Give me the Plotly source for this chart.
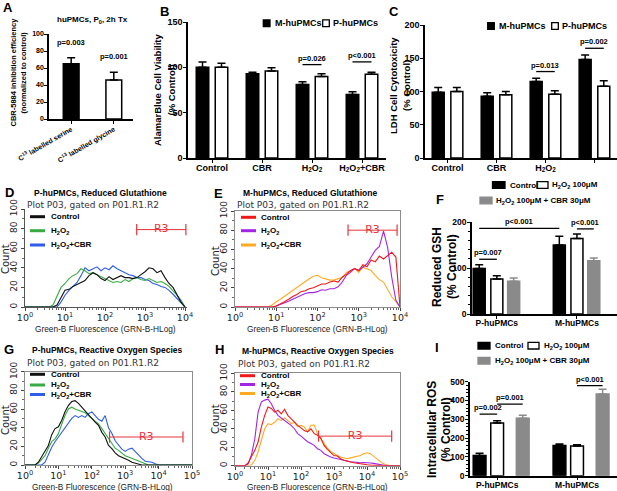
import plotly.graph_objects as go

ARIAL = "Arial, Liberation Sans, sans-serif"
DEJAVU = "DejaVu Sans, Verdana, sans-serif"
W, H = 617, 491

# ---------------- data ----------------
# A: CBR-5884 inhibition efficiency (huPMCs, P0, 2h)
tracer_labels = ["C<sup>13</sup> labelled serine", "C<sup>13</sup> labelled glycine"]
inhibition = [65, 46]
inhibition_err = [7, 9]
inhibition_p = ["p=0.003", "p=0.001"]

# B / C: viability and LDH cytotoxicity
treatments = ["Control", "CBR", "H<sub>2</sub>O<sub>2</sub>", "H<sub>2</sub>O<sub>2</sub>+CBR"]
viability_m = [100, 93, 81, 70]
viability_m_err = [6, 1.5, 3, 3]
viability_p = [100, 96, 90, 92.5]
viability_p_err = [4.5, 3.5, 3, 2]
ldh_m = [99, 93, 115, 148]
ldh_m_err = [7, 5, 5, 7]
ldh_p = [100, 95, 96, 108]
ldh_p_err = [6, 5, 5, 8]

# F / I: reduced GSH and ROS
cells = ["P-huPMCs", "M-huPMCs"]
gsh_ctrl = [99, 150]
gsh_ctrl_err = [8, 19]
gsh_h2o2 = [76, 164]
gsh_h2o2_err = [7, 10]
gsh_cbr = [71, 116]
gsh_cbr_err = [7, 6]
ros_ctrl = [108, 160]
ros_ctrl_err = [12, 8]
ros_h2o2 = [280, 158]
ros_h2o2_err = [12, 7]
ros_cbr = [305, 435]
ros_cbr_err = [17, 25]

# D / E: GSH flow histograms (GRN-B fluorescence)
gsh_fluor = [1, 1.26, 1.58, 2.0, 2.51, 3.16, 3.98, 5.01, 6.31, 7.94,
             10, 12.6, 15.8, 20.0, 25.1, 31.6, 39.8, 50.1, 63.1, 79.4,
             100, 126, 158, 200, 251, 316, 398, 501, 631, 794,
             1000, 1259, 1585, 1995, 2512, 3162, 3981, 5012, 6310, 7943, 10000]
gsh_p_control = [0, 0, 0, 0, 0, 0, 0, 0, 2, 10,
                 17, 18, 21, 23, 25, 27, 32, 35, 33, 29,
                 27, 31, 28, 30, 32, 30, 30, 29, 30, 33,
                 36, 40, 39, 35, 37, 30, 24, 20, 12, 5, 0]
gsh_p_h2o2 = [0, 0, 0, 0, 0, 0, 0, 2, 12, 20,
              24, 29, 32, 34, 39, 37, 34, 35, 33, 31,
              29, 27, 25, 26, 25, 28, 26, 29, 30, 28,
              27, 29, 27, 25, 26, 24, 21, 17, 12, 7, 0]
gsh_p_cbr = [0, 0, 0, 0, 0, 0, 0, 0, 0, 5,
             12, 17, 21, 25, 32, 40, 37, 39, 41, 37,
             40, 38, 42, 39, 37, 35, 33, 32, 30, 30,
             28, 27, 24, 23, 21, 20, 17, 13, 9, 5, 0]
gsh_m_control = [0, 0, 0, 0, 0, 0, 0, 0, 0, 0,
                 1, 3, 5.5, 8, 11, 13, 16, 17, 19, 20,
                 22, 24, 24, 26, 27, 26, 31, 34, 38, 40,
                 38, 44, 42, 49, 47, 53, 50, 54, 57, 52, 0]
gsh_m_h2o2 = [0, 0, 0, 0, 0, 0, 0, 0, 0, 0,
              1, 2.5, 4.5, 6, 8, 10, 12, 14, 15, 15,
              16, 18, 17.5, 19, 19, 21, 26, 33, 36, 40,
              38, 42, 45, 52, 59, 63, 79, 62, 31, 7, 0]
gsh_m_cbr = [0, 0, 0, 0, 0, 0, 0, 0, 0, 2,
             5.5, 8, 11, 14, 17.5, 21, 24, 27, 29.5, 32,
             33, 30.5, 29.5, 28, 28, 29.5, 31, 36, 37.5, 40,
             36, 41.5, 40, 38, 33, 28.5, 26, 19, 10.7, 5.5, 0]

# G / H: ROS flow histograms
ros_fluor = [1, 1.26, 1.58, 2.0, 2.51, 3.16, 3.98, 5.01, 6.31, 7.94,
             10, 12.6, 15.8, 20.0, 25.1, 31.6, 39.8, 50.1, 63.1, 79.4,
             100, 126, 158, 200, 251, 316, 398, 501, 631, 794,
             1000, 1259, 1585, 1995, 2512, 3162, 3981, 5012, 6310, 7943,
             10000, 12589, 15849, 19953, 25119, 31623, 39811, 50119, 63096, 79433, 100000]
ros_p_control = [0, 0, 0, 0, 3, 8.6, 15, 21, 32.5, 39,
                 41, 48, 57, 64, 68, 69, 66, 62, 57, 54,
                 50, 46, 42.5, 35, 30, 21, 17.5, 13, 10, 8.6,
                 7, 5, 3, 2, 1.5, 0, 0, 0, 0, 0,
                 0, 0, 0, 0, 0, 0, 0, 0, 0, 0, 0]
ros_p_h2o2 = [0, 0, 0, 0, 2, 6, 10, 18, 25, 28,
              33.6, 44, 53, 60, 62, 60, 58.6, 57, 56, 53,
              50, 47, 44, 39, 33.6, 28, 23, 18, 15.7, 13,
              10, 8.5, 7, 5.5, 4, 2.5, 1.4, 0, 0, 0,
              0, 0, 0, 0, 0, 0, 0, 0, 0, 0, 0]
ros_p_cbr = [0, 0, 0, 0, 0, 0, 3, 12, 19, 25,
             30, 35, 40.7, 46, 50, 53, 51, 53, 51, 55,
             57, 53, 49, 47, 53, 40, 34, 26, 21, 17,
             14.6, 17, 18, 14, 10, 7, 4, 3.5, 3, 1.4,
             0, 0, 0, 0, 0, 0, 0, 0, 0, 0, 0]
ros_m_control = [0, 0, 0, 0, 3, 9.4, 16.6, 25.6, 42, 54.5,
                 63.5, 62, 58, 60, 56, 61, 54.5, 51, 47, 43.7,
                 41, 38, 36.5, 40, 34.7, 33, 30, 22, 17.7, 14.8,
                 11, 10.5, 7.6, 6, 4.7, 4, 3.2, 2.5, 1.8, 1.4,
                 1, 0.6, 0.3, 0, 0, 0, 0, 0, 0, 0, 0]
ros_m_h2o2 = [0, 0, 0, 0, 2, 12, 29, 58, 69, 71,
              72, 67, 60, 54.5, 51.6, 49, 47, 43.7, 40, 34.7,
              32, 29, 26, 24, 22, 18.4, 16.6, 13, 11, 9.4,
              8.3, 7.5, 6.5, 5.5, 4.7, 4.3, 4, 3.5, 3.2, 3.4,
              3.6, 3, 2.5, 1.8, 1, 0, 0, 0, 0, 0, 0]
ros_m_cbr = [0, 0, 0, 0, 0, 1, 5.8, 14.8, 29, 40,
             45.5, 44.4, 47, 51, 49, 51.6, 49, 45.5, 47, 42,
             43.7, 42, 36.5, 43.7, 44, 34.7, 29, 24, 19, 15.5,
             13, 11, 9.4, 8.5, 7.6, 8.5, 9.4, 10, 11, 13,
             14, 13, 10.5, 7.6, 4.7, 2, 0.7, 0, 0, 0, 0]

# R3 gates: [low, high, count level]
gate_gsh_p = [620, 10500, 79]
gate_gsh_m = [550, 8500, 80]
gate_ros_p = [340, 53700, 30]
gate_ros_m = [340, 56000, 32]

flow_legend = ["Control", "H<sub>2</sub>O<sub>2</sub>", "H<sub>2</sub>O<sub>2</sub>+CBR"]

BLACK_LINE = "#111111"
GREEN = "#3aaa45"
BLUE = "#2f5de8"
RED = "#f01818"
PURPLE = "#a424e6"
ORANGE = "#ffaa22"
GATE = "#e8333a"
GRAY_BAR = "#8a8a8a"

fig = go.Figure()
annotations = []
shapes = []


def px(x):
    return x / W


def py(y):
    return 1 - y / H


def xid(n):
    return "x" if n == 1 else f"x{n}"


def yid(n):
    return "y" if n == 1 else f"y{n}"


def xkey(n):
    return "xaxis" if n == 1 else f"xaxis{n}"


def ykey(n):
    return "yaxis" if n == 1 else f"yaxis{n}"


def text(x, y, s, size, bold=True, anchor="center", angle=0, family=ARIAL, color="black"):
    annotations.append(dict(xref="paper", yref="paper", x=px(x), y=py(y), text=s,
                            showarrow=False, xanchor=anchor, yanchor="middle", textangle=angle,
                            font=dict(family=family, size=size, color=color,
                                      weight="bold" if bold else "normal")))


def swatch(x0, x1, yc, h, fill, edge="black"):
    shapes.append(dict(type="rect", xref="paper", yref="paper", x0=px(x0), x1=px(x1),
                       y0=py(yc + h / 2), y1=py(yc - h / 2), fillcolor=fill,
                       line=dict(color=edge, width=1.3)))


def line_swatch(x0, x1, yc, color):
    shapes.append(dict(type="line", xref="paper", yref="paper", x0=px(x0), x1=px(x1),
                       y0=py(yc), y1=py(yc), line=dict(color=color, width=3)))


def bar_axes(n, x0, x1, yb, yt, xrange, yrange, ticktext, yticks, size,
             suffix="", minor=None, tickangle=0, standoff=-3):
    font = dict(family=ARIAL, size=size, color="black", weight="bold")
    common = dict(ticks="outside", ticklen=3, tickwidth=1.3, tickcolor="black",
                  showline=True, linecolor="black", linewidth=1.5, automargin=False,
                  showgrid=False, zeroline=False, tickfont=font, fixedrange=True)
    fig.update_layout(**{
        xkey(n): dict(domain=[px(x0), px(x1)], range=xrange, anchor=yid(n),
                      tickmode="array", tickvals=list(range(len(ticktext))),
                      ticktext=[f"<b>{t}</b>" for t in ticktext], tickangle=tickangle,
                      ticklabelstandoff=standoff, **common),
        ykey(n): dict(domain=[py(yb), py(yt)], range=yrange, anchor=xid(n),
                      tickmode="array", tickvals=yticks, ticksuffix=suffix,
                      ticklabelstandoff=-1, minor=minor or {}, **common),
    })


def add_bars(n, pos, vals, errs, fill, edge, width):
    fig.add_trace(go.Bar(
        x=pos, y=vals, width=width,
        marker=dict(color=fill, line=dict(color=edge, width=1.5)),
        error_y=dict(type="data", array=errs, arrayminus=[0] * len(errs), symmetric=False,
                     color=edge, thickness=1.5, width=4),
        xaxis=xid(n), yaxis=yid(n), showlegend=False))


def bracket(n, xa, xb, y, label, size=7.5):
    shapes.append(dict(type="line", xref=xid(n), yref=yid(n), x0=xa, x1=xb, y0=y, y1=y,
                       line=dict(color="black", width=1.3)))
    annotations.append(dict(xref=xid(n), yref=yid(n), x=(xa + xb) / 2, y=y, text=label,
                            showarrow=False, yanchor="bottom",
                            font=dict(family=ARIAL, size=size, color="black", weight="bold")))


def flow_axes(n, x0, x1, yb, yt, xrange, decades, box, frame):
    minor_vals = [m * 10 ** k for k in range(decades) for m in range(2, 10)]
    tick_font = dict(family=DEJAVU, size=9.5, color="#222")
    fig.update_layout(**{
        xkey(n): dict(type="log", domain=[px(x0), px(x1)], range=xrange, anchor=yid(n),
                      tickmode="array", tickvals=[10 ** k for k in range(decades + 1)],
                      ticktext=[f"10<sup>{k}</sup>" for k in range(decades + 1)],
                      ticks="outside", ticklen=3, tickcolor="#444", ticklabelstandoff=-1,
                      minor=dict(ticks="outside", ticklen=2, tickcolor="#666",
                                 tickmode="array", tickvals=minor_vals),
                      showline=True, linecolor=frame, linewidth=1, mirror=box,
                      automargin=False, showgrid=False, zeroline=False,
                      tickfont=tick_font, fixedrange=True),
        ykey(n): dict(domain=[py(yb), py(yt)], range=[0, 100], anchor=xid(n),
                      tickmode="array", tickvals=[0, 20, 40, 60, 80, 100], tickangle=-90,
                      ticks="outside", ticklen=3, tickcolor="#444",
                      minor=dict(ticks="outside", ticklen=2, dtick=10, tickcolor="#666"),
                      showline=True, linecolor=frame, linewidth=1, mirror=box,
                      automargin=False, showgrid=False, zeroline=False,
                      tickfont=dict(family=DEJAVU, size=9, color="#222"), fixedrange=True),
    })


def flow_curves(n, fluor, series, gate):
    for counts, color in series:
        fig.add_trace(go.Scatter(x=fluor, y=counts, mode="lines",
                                 line=dict(color=color, width=1.1),
                                 xaxis=xid(n), yaxis=yid(n), showlegend=False))
    lo, hi, level = gate
    fig.add_trace(go.Scatter(x=[lo, hi], y=[level, level], mode="lines+markers",
                             line=dict(color=GATE, width=1),
                             marker=dict(symbol="line-ns", size=8,
                                         line=dict(color=GATE, width=1.2)),
                             cliponaxis=False, xaxis=xid(n), yaxis=yid(n), showlegend=False))
    fig.add_trace(go.Scatter(x=[(lo * hi) ** 0.5], y=[level], mode="text", text=["R3"],
                             textfont=dict(family=DEJAVU, size=11, color=GATE),
                             cliponaxis=False, xaxis=xid(n), yaxis=yid(n), showlegend=False))


def flow_legend_block(x_line, x_text, ys, colors):
    for label, yc, color in zip(flow_legend, ys, colors):
        line_swatch(x_line, x_line + 15, yc, color)
        text(x_text, yc, label, 8, anchor="left")


# ---------------- A ----------------
bar_axes(1, 49, 133, 119, 34, [-0.52, 1.45], [0, 100], tracer_labels,
         [0, 20, 40, 60, 80, 100], 7, suffix="%", tickangle=-30, standoff=-1)
add_bars(1, [0, 1], inhibition, inhibition_err, ["black", "white"], "black", 0.37)
for i, p in enumerate(inhibition_p):
    annotations.append(dict(xref="x", yref="y", x=i, y=inhibition[i] + inhibition_err[i] + 18,
                            text=p, showarrow=False,
                            font=dict(family=ARIAL, size=7.5, color="black", weight="bold")))
text(92, 20, "huPMCs, P<sub>0</sub>, 2h Tx", 8)
text(12.5, 72, "CBR-5884 inhibition efficiency", 7.5, angle=-90)
text(22.5, 72, "(normalized to control)", 7.5, angle=-90)

# ---------------- B ----------------
bar_axes(2, 188, 386, 158, 22, [-0.48, 3.48], [0, 150], treatments, [0, 50, 100, 150], 9)
add_bars(2, [i - 0.19 for i in range(4)], viability_m, viability_m_err, "black", "black", 0.25)
add_bars(2, [i + 0.19 for i in range(4)], viability_p, viability_p_err, "white", "black", 0.25)
bracket(2, 2 - 0.19, 2 + 0.19, 103, "p=0.026")
bracket(2, 3 - 0.19, 3 + 0.19, 106, "p<0.001")
swatch(263.3, 270, 23.3, 6.7, "black")
text(272.5, 23.3, "M-huPMCs", 9, anchor="left")
swatch(322.7, 329.3, 23.3, 6.7, "white")
text(331, 23.3, "P-huPMCs", 9, anchor="left")
text(157, 90, "AlamarBlue Cell Viability", 9.5, angle=-90)
text(170.5, 90, "(% Control)", 9.5, angle=-90)

# ---------------- C ----------------
bar_axes(3, 425, 617, 158, 25, [-0.46, 3.46], [0, 200], treatments,
         [0, 50, 100, 150, 200], 9)
add_bars(3, [i - 0.19 for i in range(4)], ldh_m, ldh_m_err, "black", "black", 0.245)
add_bars(3, [i + 0.19 for i in range(4)], ldh_p, ldh_p_err, "white", "black", 0.245)
bracket(3, 2 - 0.19, 2 + 0.19, 130, "p=0.013")
bracket(3, 3 - 0.19, 3 + 0.19, 165, "p=0.002")
swatch(487.7, 494.3, 26, 6.6, "black")
text(496.5, 26, "M-huPMCs", 9, anchor="left")
swatch(551.7, 558.3, 26, 6.6, "white")
text(560, 26, "P-huPMCs", 9, anchor="left")
text(393, 86, "LDH Cell Cytotoxicity", 9.5, angle=-90)
text(406, 86, "(% Control)", 9.5, angle=-90)

# ---------------- D ----------------
flow_axes(4, 25, 187, 307, 209, [0, 4.05], 4, False, "#555")
flow_curves(4, gsh_fluor, [(gsh_p_cbr, BLUE), (gsh_p_h2o2, GREEN), (gsh_p_control, BLACK_LINE)],
            gate_gsh_p)
flow_legend_block(30, 49, [216.7, 230.7, 245], [BLACK_LINE, GREEN, BLUE])
text(100, 193, "P-huPMCs, Reduced Glutathione", 8.5)
text(25, 205, "Plot P03, gated on P01.R1.R2", 9, bold=False, anchor="left",
     family=DEJAVU, color="#333")
text(5, 259, "Count", 10, bold=False, angle=-90, family=DEJAVU, color="#222")
text(105, 328.5, "Green-B Fluorescence (GRN-B-HLog)", 8.3, bold=False, color="#222")

# ---------------- E ----------------
flow_axes(5, 235, 400, 307, 211, [0, 4.0], 4, True, "#8c8c8c")
flow_curves(5, gsh_fluor, [(gsh_m_cbr, ORANGE), (gsh_m_h2o2, PURPLE), (gsh_m_control, RED)],
            gate_gsh_m)
flow_legend_block(241, 259, [217.3, 230.7, 245], [RED, PURPLE, ORANGE])
text(310, 193, "M-huPMCs, Reduced Glutathione", 8.5)
text(235, 204.5, "Plot P03, gated on P01.R1.R2", 9, bold=False, anchor="left",
     family=DEJAVU, color="#333")
text(215, 261, "Count", 10, bold=False, angle=-90, family=DEJAVU, color="#222")
text(317, 328.5, "Green-B Fluorescence (GRN-B-HLog)", 8.3, bold=False, color="#222")

# ---------------- F ----------------
bar_axes(6, 472, 617, 314, 222, [-0.31, 1.5], [0, 200], cells, [0, 100, 200], 8.5,
         minor=dict(ticks="outside", ticklen=2, dtick=20, tickcolor="black"))
add_bars(6, [i - 0.22 for i in range(2)], gsh_ctrl, gsh_ctrl_err, "black", "black", 0.15)
add_bars(6, [i for i in range(2)], gsh_h2o2, gsh_h2o2_err, "white", "black", 0.15)
add_bars(6, [i + 0.21 for i in range(2)], gsh_cbr, gsh_cbr_err, GRAY_BAR, GRAY_BAR, 0.15)
bracket(6, -0.22, 0, 119, "p=0.007")
bracket(6, -0.22, 1 - 0.22, 186, "p<0.001")
bracket(6, 1, 1.21, 185, "p<0.001")
swatch(492.5, 505, 185, 6.6, "black")
text(508, 185, "Control", 8, anchor="left")
swatch(537, 548, 185, 6.6, "white")
text(550, 185, "H<sub>2</sub>O<sub>2</sub> 100μM", 8, anchor="left")
swatch(480, 492, 200.5, 6.6, GRAY_BAR, GRAY_BAR)
text(494, 200.5, "H<sub>2</sub>O<sub>2</sub> 100μM + CBR 30μM", 8, anchor="left")
text(437, 267, "Reduced GSH", 12, angle=-90)
text(452, 267, "(% Control)", 12, angle=-90)

# ---------------- G ----------------
flow_axes(7, 25, 192, 465, 371.7, [0, 5], 5, True, "#8c8c8c")
flow_curves(7, ros_fluor, [(ros_p_cbr, BLUE), (ros_p_h2o2, GREEN), (ros_p_control, BLACK_LINE)],
            gate_ros_p)
flow_legend_block(30, 49, [374.3, 385, 394.5], [BLACK_LINE, GREEN, BLUE])
text(107, 350, "P-huPMCs, Reactive Oxygen Species", 8.5)
text(25, 362.5, "Plot P03, gated on P01.R1.R2", 9, bold=False, anchor="left",
     family=DEJAVU, color="#333")
text(5, 420, "Count", 10, bold=False, angle=-90, family=DEJAVU, color="#222")
text(102, 487, "Green-B Fluorescence (GRN-B-HLog)", 8.3, bold=False, color="#222")

# ---------------- H ----------------
flow_axes(8, 235, 400, 465.7, 373.3, [0, 5], 5, True, "#8c8c8c")
flow_curves(8, ros_fluor, [(ros_m_cbr, ORANGE), (ros_m_h2o2, PURPLE), (ros_m_control, RED)],
            gate_ros_m)
flow_legend_block(240, 258.5, [375.7, 384.5, 393.5], [RED, PURPLE, ORANGE])
text(318, 350.5, "M-huPMCs, Reactive Oxygen Species", 8.5)
text(236, 363.5, "Plot P03, gated on P01.R1.R2", 9, bold=False, anchor="left",
     family=DEJAVU, color="#333")
text(215, 419, "Count", 10, bold=False, angle=-90, family=DEJAVU, color="#222")
text(318, 487, "Green-B Fluorescence (GRN-B-HLog)", 8.3, bold=False, color="#222")

# ---------------- I ----------------
bar_axes(9, 470, 617, 475.7, 381.7, [-0.34, 1.5], [0, 500], cells,
         [0, 100, 200, 300, 400, 500], 8.5,
         minor=dict(ticks="outside", ticklen=2, dtick=20, tickcolor="black"))
add_bars(9, [i - 0.22 for i in range(2)], ros_ctrl, ros_ctrl_err, "black", "black", 0.16)
add_bars(9, [i for i in range(2)], ros_h2o2, ros_h2o2_err, "white", "black", 0.16)
add_bars(9, [i + 0.32 for i in range(2)], ros_cbr, ros_cbr_err, GRAY_BAR, GRAY_BAR, 0.16)
bracket(9, -0.22, 0, 327, "p=0.002")
bracket(9, 0, 0.32, 381, "p=0.001")
bracket(9, 1, 1.32, 479, "p<0.001")
swatch(478, 490, 345.7, 6.6, "black")
text(493, 345.7, "Control", 8, anchor="left")
swatch(528, 539, 345.7, 6.6, "white")
text(542, 345.7, "H<sub>2</sub>O<sub>2</sub> 100μM", 8, anchor="left")
swatch(478, 490, 360.7, 6.6, GRAY_BAR, GRAY_BAR)
text(493, 360.7, "H<sub>2</sub>O<sub>2</sub> 100μM + CBR 30μM", 8, anchor="left")
text(432, 430, "Intracellular ROS", 12, angle=-90)
text(446, 430, "(% Control)", 12, angle=-90)

# panel letters
for letter, lx, ly in [("A", 8, 7), ("B", 165, 11), ("C", 394, 11), ("D", 9, 192),
                       ("E", 218, 193), ("F", 440, 199), ("G", 9, 349), ("H", 219, 349),
                       ("I", 437, 347)]:
    text(lx, ly, letter, 13)

fig.update_layout(
    width=W, height=H,
    margin=dict(l=0, r=0, t=0, b=0, pad=0, autoexpand=False),
    paper_bgcolor="white", plot_bgcolor="white",
    barmode="overlay", showlegend=False,
    annotations=annotations, shapes=shapes,
    font=dict(family=ARIAL, color="black"),
)
# the page's default 8px body margin would push the figure out of the window
fig.write_html("out.html", config={"displayModeBar": False},
               post_script="document.body.style.margin = '0';")
